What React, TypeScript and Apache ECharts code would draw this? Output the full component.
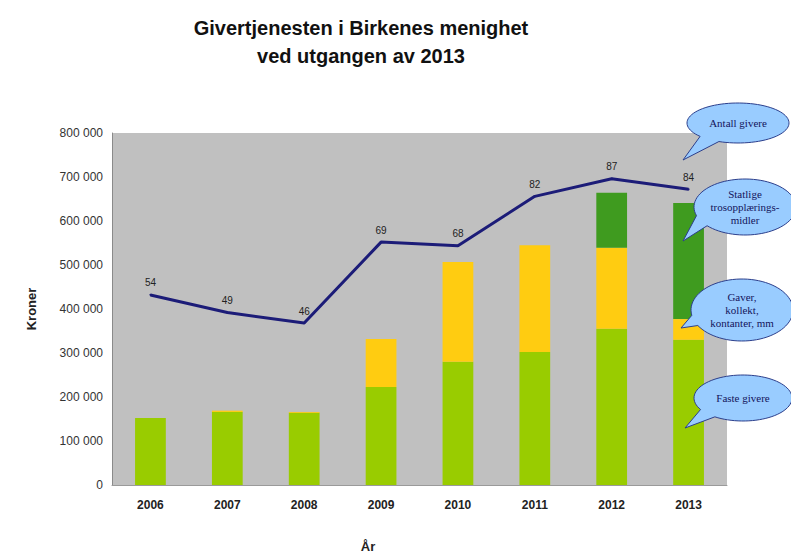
import React, { useEffect, useRef } from "react";
import * as echarts from "echarts";

const years = ["2006", "2007", "2008", "2009", "2010", "2011", "2012", "2013"];
const fasteGivere = [152000, 166000, 164000, 223000, 280000, 302000, 355000, 330000];
const gaverKollekt = [0, 3000, 2000, 109000, 227000, 243000, 184000, 47000];
const statligeMidler = [0, 0, 0, 0, 0, 0, 125000, 264000];
const antallGivere = [54, 49, 46, 69, 68, 82, 87, 84];
const yTicks = [0, 100000, 200000, 300000, 400000, 500000, 600000, 700000, 800000];

function bubblePoints(cx: number, cy: number, rx: number, ry: number, a1: number, a2: number, tx: number, ty: number) {
  const pts: number[][] = [];
  const n = 80;
  const start = (a2 * Math.PI) / 180;
  const end = ((a1 + 360) * Math.PI) / 180;
  for (let i = 0; i <= n; i++) {
    const a = start + ((end - start) * i) / n;
    pts.push([cx + rx * Math.cos(a), cy + ry * Math.sin(a)]);
  }
  pts.push([tx, ty]);
  return pts;
}

function bubble(cx: number, cy: number, rx: number, ry: number, a1: number, a2: number, tx: number, ty: number, text: string) {
  return [
    {
      type: "polygon",
      shape: { points: bubblePoints(cx, cy, rx, ry, a1, a2, tx, ty) },
      style: { fill: "#99ccff", stroke: "#2c3f8c", lineWidth: 1 },
      z: 100,
    },
    {
      type: "text",
      z: 101,
      style: {
        text,
        x: cx,
        y: cy,
        font: '11px "Liberation Serif", serif',
        fill: "#14145c",
        align: "center",
        verticalAlign: "middle",
        textAlign: "center",
        textVerticalAlign: "middle",
        lineHeight: 13,
      },
    },
  ];
}

export default function App() {
  const ref = useRef<HTMLDivElement>(null);
  useEffect(() => {
    if (!ref.current) return;
    const chart = echarts.init(ref.current, null, { renderer: "svg" });
    const fmt = (v: number) => (v === 0 ? "0" : `${Math.round(v / 1000)} 000`);
    chart.setOption({
      animation: false,
      backgroundColor: "#ffffff",
      grid: {
        left: 112,
        right: 64,
        top: 133,
        bottom: 70,
        show: true,
        backgroundColor: "#c0c0c0",
        borderWidth: 0,
      },
      xAxis: {
        type: "category",
        data: years,
        axisLine: { show: true, lineStyle: { color: "#9a9a9a", width: 1 } },
        axisTick: { show: false },
        axisLabel: {
          margin: 14,
          fontSize: 12,
          fontWeight: "bold",
          color: "#222",
          fontFamily: '"Liberation Sans", Arial, sans-serif',
        },
      },
      yAxis: [
        {
          type: "value",
          min: 0,
          max: yTicks[yTicks.length - 1],
          interval: 100000,
          splitLine: { show: false },
          axisLine: { show: true, lineStyle: { color: "#8a8a8a", width: 1 } },
          axisTick: { show: false },
          axisLabel: {
            margin: 9,
            fontSize: 12,
            color: "#333",
            fontFamily: '"Liberation Sans", Arial, sans-serif',
            formatter: fmt,
          },
          name: "Kroner",
          nameLocation: "middle",
          nameGap: 74,
          nameRotate: 90,
          nameTextStyle: {
            fontSize: 13,
            fontWeight: "bold",
            color: "#222",
            fontFamily: '"Liberation Sans", Arial, sans-serif',
          },
        },
        { type: "value", min: 0, max: 100, show: false, splitLine: { show: false } },
      ],
      series: [
        {
          name: "Faste givere",
          type: "bar",
          stack: "total",
          data: fasteGivere,
          barWidth: "40%",
          itemStyle: { color: "#99cc00" },
        },
        {
          name: "Gaver",
          type: "bar",
          stack: "total",
          data: gaverKollekt,
          itemStyle: { color: "#ffcc11" },
        },
        {
          name: "Statlige",
          type: "bar",
          stack: "total",
          data: statligeMidler,
          itemStyle: { color: "#3f9b1f" },
        },
        {
          name: "Antall givere",
          type: "line",
          yAxisIndex: 1,
          data: antallGivere,
          symbol: "circle",
          symbolSize: 2,
          showSymbol: true,
          itemStyle: { color: "#1c1c78" },
          z: 10,
          lineStyle: { color: "#1c1c78", width: 3 },
          label: {
            show: true,
            position: "top",
            distance: 6,
            fontSize: 10,
            color: "#222",
            fontFamily: '"Liberation Sans", Arial, sans-serif',
          },
        },
      ],
      graphic: [
        {
          type: "text",
          style: {
            text: "Givertjenesten i Birkenes menighet",
            x: 361,
            y: 28,
            font: 'bold 20px "Liberation Sans", Arial, sans-serif',
            fill: "#111",
            align: "center",
            verticalAlign: "middle",
            textAlign: "center",
            textVerticalAlign: "middle",
          },
        },
        {
          type: "text",
          style: {
            text: "ved utgangen av 2013",
            x: 361,
            y: 56,
            font: 'bold 20px "Liberation Sans", Arial, sans-serif',
            fill: "#111",
            align: "center",
            verticalAlign: "middle",
            textAlign: "center",
            textVerticalAlign: "middle",
          },
        },
        {
          type: "text",
          style: {
            text: "År",
            x: 368,
            y: 546,
            font: 'bold 13px "Liberation Sans", Arial, sans-serif',
            fill: "#222",
            align: "center",
            verticalAlign: "middle",
            textAlign: "center",
            textVerticalAlign: "middle",
          },
        },
        ...bubble(738, 123, 51, 20, 112, 138, 683, 160, "Antall givere"),
        ...bubble(745, 207, 51, 28, 138, 162, 683, 241, "Statlige\ntrosopplærings-\nmidler"),
        ...bubble(742, 310, 51, 31, 150, 170, 681, 328, "Gaver,\nkollekt,\nkontanter, mm"),
        ...bubble(743, 398, 49, 23, 125, 150, 685, 428, "Faste givere"),
      ],
    });
    return () => chart.dispose();
  }, []);
  return <div ref={ref} style={{ position: "fixed", left: 0, top: 0, width: 791, height: 555 }} />;
}
